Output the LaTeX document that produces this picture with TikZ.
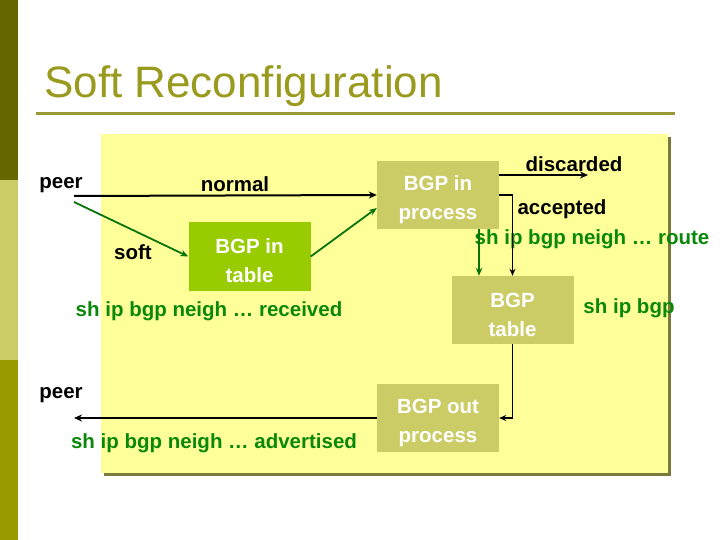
\documentclass[tikz,border=0pt]{standalone}
\usepackage{fontspec}
\setmainfont{Liberation Sans}
\usetikzlibrary{arrows.meta,calc}
\definecolor{sbdark}{HTML}{666600}
\definecolor{sblight}{HTML}{CCCC66}
\definecolor{sbmid}{HTML}{999900}
\definecolor{titlecol}{HTML}{9A9A1E}
\definecolor{rulecol}{HTML}{999933}
\definecolor{yfill}{HTML}{FFFF99}
\definecolor{shadowcol}{HTML}{7A7A3A}
\definecolor{tgreen}{HTML}{99CC00}
\definecolor{bolive}{HTML}{CCCC66}
\definecolor{txtgreen}{HTML}{0A880A}
\tikzset{
  lbl/.style={inner sep=0pt, font=\fontsize{20.5}{24}\selectfont\bfseries},
  glbl/.style={lbl, text=txtgreen},
  boxtext/.style={inner sep=0pt, text=white, align=center, yshift=-4.5pt,
    font=\fontsize{20.5}{29}\selectfont\bfseries},
  procbox/.style={rectangle, fill=bolive, inner sep=0pt,
    minimum width=122pt, minimum height=68pt},
  tablebox/.style={procbox, fill=tgreen},
  blkarrow/.style={line width=2pt, -{Stealth[length=8pt,width=7pt]}},
  thinarrow/.style={line width=1.3pt, -{Stealth[length=7pt,width=6pt]}},
  grnarrow/.style={line width=1.8pt, draw=txtgreen!85!black, -{Stealth[length=8pt,width=6.5pt]}}
}
\begin{document}
\begin{tikzpicture}[x=1pt,y=-1pt]
\useasboundingbox (0,0) rectangle (720,540);
\fill[white] (0,0) rectangle (720,540);
% sidebar
\fill[sbdark] (0,0) rectangle (18,180);
\fill[sblight] (0,180) rectangle (18,360);
\fill[sbmid] (0,360) rectangle (18,540);
% title
\node[anchor=base west, inner sep=0pt, text=titlecol, font=\fontsize{44}{50}\selectfont] (title) at (44,98) {Soft Reconfiguration};
\fill[rulecol] (36,112.5) rectangle (675,115.5);
% main panel
\fill[shadowcol] (104,137) rectangle (671,476);
\fill[yfill] (101,134) rectangle (668,473);
% boxes
\node[tablebox, label={[boxtext]center:{BGP in\\table}}] (intable) at (249.5,256.5) {};
\node[procbox, label={[boxtext]center:{BGP in\\process}}] (inproc) at (438,195) {};
\node[procbox, label={[boxtext]center:{BGP\\table}}] (bgptable) at (512.5,310) {};
\node[procbox, label={[boxtext]center:{BGP out\\process}}] (outproc) at (438,418) {};
% labels
\node[lbl] (peer1) at (61,185.5) {peer};
\node[lbl] (normal) at (235,184) {normal};
\node[lbl] (soft) at (133,252) {soft};
\node[glbl] (received) at (209,311) {sh ip bgp neigh … received};
\node[lbl] (discarded) at (574,164) {discarded};
\node[lbl] (accepted) at (562,209) {accepted};
\node[glbl] (route) at (592,239) {sh ip bgp neigh … route};
\node[glbl] (shipbgp) at (629,308) {sh ip bgp};
\node[lbl] (peer2) at (61,395.5) {peer};
\node[glbl] (advertised) at (214,443) {sh ip bgp neigh … advertised};
% coordinates
\coordinate (pa) at (74,196);
\coordinate (pb) at (74,202);
\coordinate (disc) at (588,175);
\coordinate (gx) at (479,0);
\coordinate (pout) at (74,418);
% connectors
\draw[blkarrow] (pa) -- (inproc.west);
\draw[grnarrow] (pb) -- (intable.west);
\draw[grnarrow] (intable.east) -- ([yshift=-13pt]inproc.west);
\draw[blkarrow] ([yshift=20pt]inproc.east) -- (disc);
\draw[thinarrow] (inproc.east) -| (bgptable.north);
\draw[grnarrow] (inproc.south -| gx) -- (bgptable.north -| gx);
\draw[thinarrow] (bgptable.south) |- (outproc.east);
\draw[blkarrow] (outproc.west) -- (pout);
\end{tikzpicture}
\end{document}
